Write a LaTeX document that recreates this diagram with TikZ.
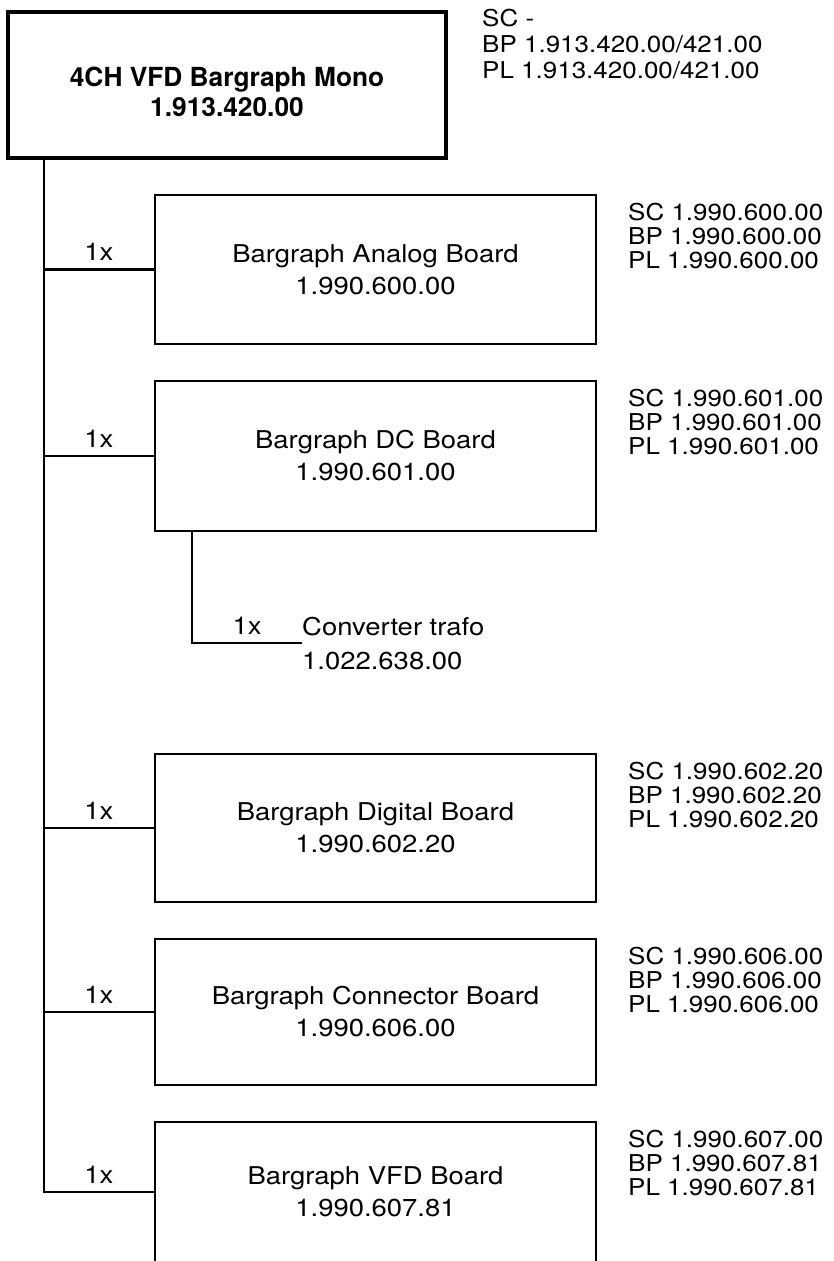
\documentclass[tikz,border=0pt]{standalone}
\usepackage{fontspec}
\setmainfont{TeX Gyre Heros}
\newfontfamily\widefont[FakeStretch=1.12]{TeX Gyre Heros}
\begin{document}
\begin{tikzpicture}[x=1pt,y=-1pt,
  topbox/.style={draw, line width=3.5pt, minimum width=438pt, minimum height=146pt, inner sep=0pt},
  titletext/.style={align=center, inner sep=0pt, font=\fontsize{26.3}{30}\selectfont\bfseries},
  board/.style={draw, line width=2.2pt, minimum width=441pt, minimum height=#1, inner sep=0pt, align=center, font=\widefont\fontsize{24.5}{32}\selectfont},
  info/.style={anchor=north west, align=left, inner sep=0pt, font=\widefont\fontsize{23.2}{24}\selectfont},
  topinfo/.style={anchor=north west, align=left, inner sep=0pt, font=\widefont\fontsize{23.2}{26}\selectfont},
  trunk/.style={line width=2.6pt},
  branch/.style={line width=2.4pt},
  qty/.style={anchor=base, yshift=9pt, inner sep=0pt, font=\widefont\fontsize{24.5}{30}\selectfont}
]
\useasboundingbox (0,0) rectangle (833,1261);
\clip (0,0) rectangle (833,1261);

% main assembly
\node[topbox] (top) at (227,85) {};
\node[titletext] (title) at (227,92) {4CH VFD Bargraph Mono\\1.913.420.00};
\node[topinfo] (topinfo) at (482,9) {SC -\\BP 1.913.420.00/421.00\\PL 1.913.420.00/421.00};

% boards
\node[board=149pt] (analog) at (375.5,269.5) {Bargraph Analog Board\\1.990.600.00};
\node[board=150pt] (dc) at (375.5,456) {Bargraph DC Board\\1.990.601.00};
\node[board=148pt] (digital) at (375.5,828) {Bargraph Digital Board\\1.990.602.20};
\node[board=146pt] (conn) at (375.5,1012) {Bargraph Connector Board\\1.990.606.00};
\node[board=140pt] (vfd) at (375.5,1192) {Bargraph VFD Board\\1.990.607.81};

% converter
\node[anchor=west, align=left, inner sep=0pt, font=\widefont\fontsize{24.5}{34}\selectfont] (conv) at (302,644) {Converter trafo\\1.022.638.00};

% part numbers
\node[info] (ianalog) at (628,203) {SC 1.990.600.00\\BP 1.990.600.00\\PL 1.990.600.00};
\node[info] (idc) at (628,389) {SC 1.990.601.00\\BP 1.990.601.00\\PL 1.990.601.00};
\node[info] (idigital) at (628,762) {SC 1.990.602.20\\BP 1.990.602.20\\PL 1.990.602.20};
\node[info] (iconn) at (628,947) {SC 1.990.606.00\\BP 1.990.606.00\\PL 1.990.606.00};
\node[info] (ivfd) at (628,1130) {SC 1.990.607.00\\BP 1.990.607.81\\PL 1.990.607.81};

% connectors
\coordinate (trunkend) at (44,1192);
\draw[trunk] (top.south -| trunkend) -- (trunkend) -- node[qty]{1x} (vfd.west);
\draw[branch] (analog.west -| trunkend) -- node[qty]{1x} (analog.west);
\draw[branch] (dc.west -| trunkend) -- node[qty]{1x} (dc.west);
\draw[branch] (digital.west -| trunkend) -- node[qty]{1x} (digital.west);
\draw[branch] (conn.west -| trunkend) -- node[qty]{1x} (conn.west);

\coordinate (subcorner) at (192,643);
\draw[branch, line width=2pt] (dc.south -| subcorner) -- (subcorner) -- node[qty]{1x} (subcorner -| conv.west);
\end{tikzpicture}
\end{document}
